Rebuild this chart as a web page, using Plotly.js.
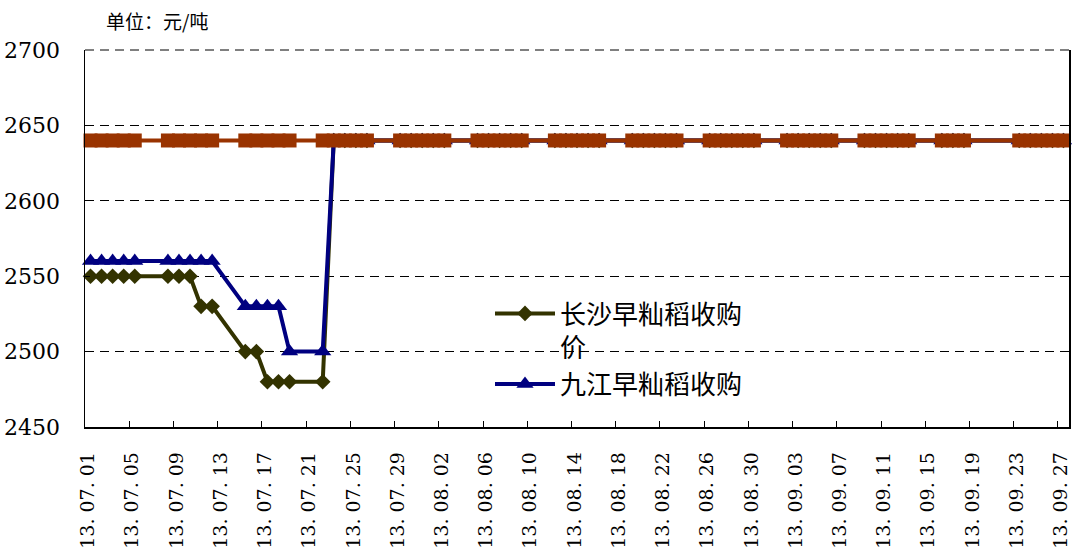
<!DOCTYPE html>
<html>
<head>
<meta charset="utf-8">
<script src="https://cdn.plot.ly/plotly-3.0.1.min.js"></script>
<style>
  html, body { margin: 0; padding: 0; background: #fff; }
  #chart { width: 1072px; height: 554px; }
</style>
</head>
<body>
<div id="chart"></div>
<script>
// ---- data ----
const dates = [
  '2013-07-01','2013-07-02','2013-07-03','2013-07-04','2013-07-05',
  '2013-07-08','2013-07-09','2013-07-10','2013-07-11','2013-07-12',
  '2013-07-15','2013-07-16','2013-07-17','2013-07-18','2013-07-19',
  '2013-07-22','2013-07-23','2013-07-24','2013-07-25','2013-07-26',
  '2013-07-29','2013-07-30','2013-07-31','2013-08-01','2013-08-02',
  '2013-08-05','2013-08-06','2013-08-07','2013-08-08','2013-08-09',
  '2013-08-12','2013-08-13','2013-08-14','2013-08-15','2013-08-16',
  '2013-08-19','2013-08-20','2013-08-21','2013-08-22','2013-08-23',
  '2013-08-26','2013-08-27','2013-08-28','2013-08-29','2013-08-30',
  '2013-09-02','2013-09-03','2013-09-04','2013-09-05','2013-09-06',
  '2013-09-09','2013-09-10','2013-09-11','2013-09-12','2013-09-13',
  '2013-09-16','2013-09-17','2013-09-18',
  '2013-09-23','2013-09-24','2013-09-25','2013-09-26','2013-09-27'
];

const changshaName = '长沙早籼稻收购<br>价';
const changsha = [
  2550,2550,2550,2550,2550,
  2550,2550,2550,2530,2530,
  2500,2500,2480,2480,2480,
  2480,2640,2640,2640,2640,
  2640,2640,2640,2640,2640,
  2640,2640,2640,2640,2640,
  2640,2640,2640,2640,2640,
  2640,2640,2640,2640,2640,
  2640,2640,2640,2640,2640,
  2640,2640,2640,2640,2640,
  2640,2640,2640,2640,2640,
  2640,2640,2640,
  2640,2640,2640,2640,2640
];

const jiujiangName = '九江早籼稻收购';
const jiujiang = [
  2560,2560,2560,2560,2560,
  2560,2560,2560,2560,2560,
  2530,2530,2530,2530,2500,
  2500,2640,2640,2640,2640,
  2640,2640,2640,2640,2640,
  2640,2640,2640,2640,2640,
  2640,2640,2640,2640,2640,
  2640,2640,2640,2640,2640,
  2640,2640,2640,2640,2640,
  2640,2640,2640,2640,2640,
  2640,2640,2640,2640,2640,
  2640,2640,2640,
  2640,2640,2640,2640,2640
];

const minPriceName = '国家最低收购价';
const minPrice = [
  2640,2640,2640,2640,2640,
  2640,2640,2640,2640,2640,
  2640,2640,2640,2640,2640,
  2640,2640,2640,2640,2640,
  2640,2640,2640,2640,2640,
  2640,2640,2640,2640,2640,
  2640,2640,2640,2640,2640,
  2640,2640,2640,2640,2640,
  2640,2640,2640,2640,2640,
  2640,2640,2640,2640,2640,
  2640,2640,2640,2640,2640,
  2640,2640,2640,
  2640,2640,2640,2640,2640
];

const tickLabels = [
  '13.07.01','13.07.05','13.07.09','13.07.13','13.07.17','13.07.21',
  '13.07.25','13.07.29','13.08.02','13.08.06','13.08.10','13.08.14',
  '13.08.18','13.08.22','13.08.26','13.08.30','13.09.03','13.09.07',
  '13.09.11','13.09.15','13.09.19','13.09.23','13.09.27'
];
const yTicks = [2450, 2500, 2550, 2600, 2650, 2700];
const unitText = '单位：元/吨';

// ---- derived axis helpers (tick at start of each labelled day band) ----
function labelToBandStart(lbl) {
  const p = lbl.split('.');
  const d = new Date(Date.UTC(2000 + (+p[0]), (+p[1]) - 1, +p[2]));
  d.setUTCHours(d.getUTCHours() - 12);
  return d.toISOString().slice(0, 19).replace('T', ' ');
}
const tickVals = tickLabels.map(labelToBandStart);
const tickText = tickLabels.map(s => s.replace(/\./g, '. '));

const serif = 'DejaVu Serif';
const cjk = 'Noto Sans CJK SC';

const traces = [
  {
    x: dates, y: changsha, name: changshaName, type: 'scatter', mode: 'lines+markers',
    line: { color: '#333300', width: 4 },
    marker: { symbol: 'diamond', size: 12, color: '#333300' },
    cliponaxis: false
  },
  {
    x: dates, y: jiujiang, name: jiujiangName, type: 'scatter', mode: 'lines+markers',
    line: { color: '#000080', width: 4 },
    marker: { symbol: 'triangle-up', size: 15, color: '#000080' },
    cliponaxis: false
  },
  {
    x: dates, y: minPrice, name: minPriceName, type: 'scatter', mode: 'lines+markers',
    line: { color: '#993300', width: 4 },
    marker: { symbol: 'square', size: 14, color: '#993300' },
    showlegend: false,
    cliponaxis: false
  }
];

const layout = {
  width: 1072, height: 554,
  margin: { l: 85, r: 3, t: 50, b: 127 },
  paper_bgcolor: '#fff', plot_bgcolor: '#fff',
  title: {
    text: unitText, xref: 'container', yref: 'container',
    x: 106 / 1072, xanchor: 'left', y: 1 - 22 / 554, yanchor: 'middle',
    font: { family: cjk, size: 19, color: '#000' }
  },
  xaxis: {
    type: 'date',
    range: ['2013-06-30 12:00', '2013-09-27 12:00'],
    tickmode: 'array', tickvals: tickVals, ticktext: tickText,
    tickangle: -90,
    ticks: 'inside', ticklen: 6, tickcolor: '#000', tickwidth: 1,
    showgrid: false, zeroline: false,
    showline: true, linecolor: '#000', linewidth: 1.5,
    tickfont: { family: serif, size: 19, color: '#000' },
    ticklabelstandoff: 16, ticklabelshift: 3, ticklabeloverflow: 'allow'
  },
  yaxis: {
    range: [2450, 2700],
    tickmode: 'array', tickvals: yTicks, ticktext: yTicks.map(String),
    ticks: 'inside', ticklen: 5, tickcolor: '#000',
    showgrid: true, gridcolor: '#000', gridwidth: 1, griddash: '9px,6px',
    zeroline: false,
    showline: true, mirror: true, linecolor: '#000', linewidth: 1.5,
    tickfont: { family: serif, size: 22, color: '#000' },
    ticklabelstandoff: 19
  },
  shapes: [
    { type: 'line', xref: 'paper', yref: 'paper', x0: 0, x1: 1, y0: 1, y1: 1,
      line: { color: '#000', width: 1, dash: '9px,6px' }, layer: 'below' }
  ],
  legend: {
    x: (490 - 85) / 984, xanchor: 'left',
    y: 1 - (290 - 50) / 377, yanchor: 'top',
    bgcolor: 'rgba(0,0,0,0)', borderwidth: 0,
    font: { family: cjk, size: 26, color: '#000' },
    valign: 'top', itemwidth: 60, tracegroupgap: 0
  },
  showlegend: true
};

Plotly.newPlot('chart', traces, layout, { staticPlot: true, displayModeBar: false });
</script>
</body>
</html>
